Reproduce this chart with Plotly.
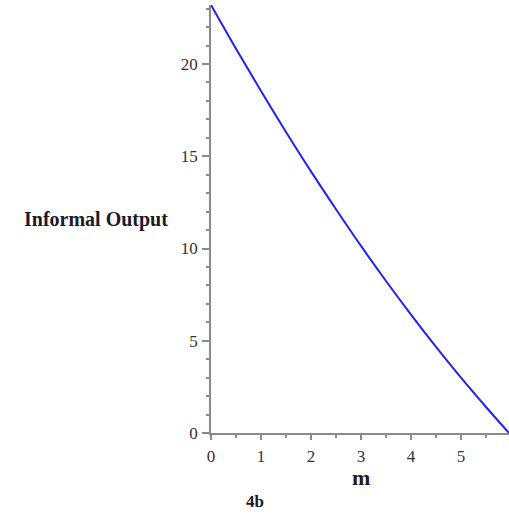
import plotly.graph_objects as go

# Informal output as a function of m
m_values = [0.0, 0.5, 1.0, 1.5, 2.0, 2.5, 3.0, 3.5, 4.0, 4.5, 5.0, 5.5, 5.96]
output_values = [23.2, 20.83, 18.54, 16.32, 14.18, 12.13, 10.14, 8.24, 6.42, 4.67, 3.0, 1.41, 0.0]

x_ticks = [0, 1, 2, 3, 4, 5]
y_ticks = [0, 5, 10, 15, 20]

serif = "Liberation Serif"
axis_grey = "#8a8a8a"

fig = go.Figure()
fig.add_trace(go.Scatter(
    x=m_values, y=output_values, mode="lines",
    line=dict(color="#2222ee", width=2, shape="spline"),
    hoverinfo="skip", showlegend=False,
))

fig.update_layout(
    width=509, height=514,
    margin=dict(l=211, r=0, t=5, b=81),
    paper_bgcolor="white", plot_bgcolor="white",
    font=dict(family=serif, size=17, color="#222"),
    xaxis=dict(
        range=[0, max(m_values)], tickvals=x_ticks,
        showline=True, linecolor=axis_grey, linewidth=1.5,
        ticks="outside", ticklen=5, tickcolor=axis_grey, tickwidth=1.5,
        minor=dict(dtick=0.5, ticks="outside", ticklen=3, tickcolor=axis_grey, tickwidth=1.5),
        showgrid=False, zeroline=False, ticklabelstandoff=2,
        tickfont=dict(family=serif, size=17, color="#333"),
    ),
    yaxis=dict(
        range=[0, max(output_values)], tickvals=y_ticks,
        showline=True, linecolor=axis_grey, linewidth=1.5,
        ticks="outside", ticklen=7, tickcolor=axis_grey, tickwidth=1.5,
        minor=dict(dtick=1, ticks="outside", ticklen=3, tickcolor=axis_grey, tickwidth=1.5),
        showgrid=False, zeroline=False, ticklabelstandoff=1,
        tickfont=dict(family=serif, size=17, color="#333"),
    ),
    annotations=[
        dict(text="<b>Informal Output</b>", xref="paper", yref="paper",
             x=-0.1376, y=0.498, xanchor="right", yanchor="middle", showarrow=False,
             font=dict(family=serif, size=20, color="#1a1a2a")),
        dict(text="<b>m</b>", xref="x", yref="paper",
             x=3.0, y=-0.103, xanchor="center", yanchor="middle", showarrow=False,
             font=dict(family=serif, size=22, color="#1a1a2a")),
        dict(text="<b>4b</b>", xref="paper", yref="paper",
             x=0.148, y=-0.161, xanchor="center", yanchor="middle", showarrow=False,
             font=dict(family=serif, size=17, color="#1a1a2a")),
    ],
)

fig.write_html("out.html")
